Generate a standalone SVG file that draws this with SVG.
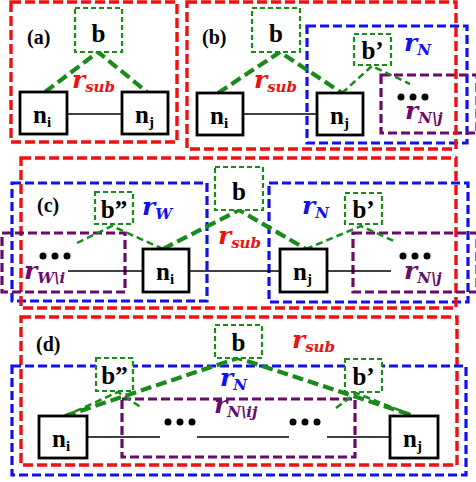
<svg xmlns="http://www.w3.org/2000/svg" width="476" height="482" viewBox="0 0 476 482">
<style>
.red{fill:none;stroke:#f01010;stroke-width:3.4;stroke-dasharray:10 4}
.blue{fill:none;stroke:#1010f0;stroke-width:3.2;stroke-dasharray:9 4}
.pur{fill:none;stroke:#6a0a6a;stroke-width:3.2;stroke-dasharray:9 4}
.gbox{fill:#fff;stroke:#1a8a1a;stroke-width:2.2;stroke-dasharray:5 3}
.nbox{fill:#fff;stroke:#000;stroke-width:2.8}
.thick{stroke:#1a8a1a;stroke-width:4.2;stroke-dasharray:11 5;fill:none}
.thin{stroke:#1a8a1a;stroke-width:2.5;stroke-dasharray:7 4;fill:none}
.edge{stroke:#000;stroke-width:1.6;fill:none}
.t{font-family:"Liberation Serif",serif;font-weight:bold;fill:#000}
.lab{font-size:20px}
.b{font-size:25px;text-anchor:middle}
.n{font-size:25px}
.sub{font-size:15px}
.r{font-family:"DejaVu Serif",serif;font-weight:bold;font-style:italic}
.rr{font-size:25px}
.rs{font-size:15px}
.cr{fill:#f01010}.cb{fill:#1010f0}.cp{fill:#6a0a6a}
</style>

<!-- regions -->
<g id="region-a-sub"><rect class="red" x="11" y="2" width="166" height="140"/></g>
<g id="region-b-N"><rect class="blue" x="307" y="26" width="160" height="117"/></g>
<g id="region-b-Nj"><rect class="pur" x="381" y="75" width="96" height="58"/></g>
<g id="region-b-sub"><rect class="red" x="187" y="2" width="269" height="147"/></g>

<g id="region-c-W"><rect class="blue" x="12" y="183" width="195" height="118"/></g>
<g id="region-c-N"><rect class="blue" x="269" y="183" width="199" height="119"/></g>
<g id="region-c-sub"><rect class="red" x="21" y="158" width="435" height="150"/></g>
<g id="region-c-Wi"><rect class="pur" x="2" y="233" width="123" height="59"/></g>
<g id="region-c-Nj"><rect class="pur" x="353" y="233" width="124" height="59"/></g>

<g id="region-d-sub"><rect class="red" x="21" y="317" width="436" height="148"/></g>
<g id="region-d-N"><rect class="blue" x="12" y="366" width="454" height="109"/></g>
<g id="region-d-Nij"><rect class="pur" x="122" y="399" width="233" height="58"/></g>

<!-- connectors -->
<g id="connectors">
  <line class="edge" x1="67" y1="114" x2="122" y2="114"/>
  <path class="thick" d="M45 92 L98 52 L147 92"/>

  <line class="edge" x1="243" y1="114" x2="317" y2="114"/>
  <path class="thick" d="M218 93 L280 52 L342 93"/>
  <path class="thin" d="M342 93 L372 66 L410 84"/>

  <line class="edge" x1="68" y1="271" x2="143" y2="271"/>
  <line class="edge" x1="189" y1="271" x2="280" y2="271"/>
  <line class="edge" x1="327" y1="271" x2="391" y2="271"/>
  <path class="thick" d="M163 249 L239 210 L306 249"/>
  <path class="thin" d="M77 243 L112 226 L163 249"/>
  <path class="thin" d="M306 249 L361 226 L396 242"/>

  <line class="edge" x1="87" y1="437" x2="160" y2="437"/>
  <line class="edge" x1="197" y1="437" x2="289" y2="437"/>
  <line class="edge" x1="327" y1="437" x2="390" y2="437"/>
  <path class="thick" d="M65 416 L238 358 L414 416"/>
  <path class="thin" d="M65 416 L118 392 L142 408"/>
  <path class="thin" d="M336 408 L356 393 L414 416"/>
</g>

<!-- panel labels -->
<g id="labels">
  <text class="t lab" x="27" y="44">(a)</text>
  <text class="t lab" x="202" y="44">(b)</text>
  <text class="t lab" x="37" y="212">(c)</text>
  <text class="t lab" x="36" y="351">(d)</text>
</g>

<!-- panel a -->
<g id="a-b"><rect class="gbox" x="75" y="8" width="47" height="44"/><text class="t b" x="98.5" y="42">b</text></g>
<g id="a-ni"><rect class="nbox" x="20" y="92" width="47" height="42"/><text class="t n" x="33" y="123">n<tspan class="sub" dy="4">i</tspan></text></g>
<g id="a-nj"><rect class="nbox" x="122" y="92" width="46" height="42"/><text class="t n" x="135" y="123">n<tspan class="sub" dy="4">j</tspan></text></g>
<g id="a-rsub"><text class="r cr" x="72" y="88"><tspan class="rr">r</tspan><tspan class="rs" dy="4">sub</tspan></text></g>

<!-- panel b -->
<g id="b-b"><rect class="gbox" x="252" y="8" width="48" height="44"/><text class="t b" x="276" y="42">b</text></g>
<g id="b-bp"><rect class="gbox" x="354" y="34" width="37" height="31"/><text class="t b" x="372.5" y="59">b’</text></g>
<g id="b-ni"><rect class="nbox" x="197" y="93" width="46" height="42"/><text class="t n" x="210" y="124">n<tspan class="sub" dy="4">i</tspan></text></g>
<g id="b-nj"><rect class="nbox" x="317" y="93" width="46" height="42"/><text class="t n" x="330" y="124">n<tspan class="sub" dy="4">j</tspan></text></g>
<g id="b-rsub"><text class="r cr" x="254" y="88"><tspan class="rr">r</tspan><tspan class="rs" dy="4">sub</tspan></text></g>
<g id="b-rN"><text class="r cb" x="404" y="51"><tspan class="rr">r</tspan><tspan class="rs" dy="4">N</tspan></text></g>
<g id="b-dots"><circle cx="401" cy="97" r="3.5"/><circle cx="413" cy="97" r="3.5"/><circle cx="425" cy="97" r="3.5"/></g>
<g id="b-rNj"><text class="r cp" x="405" y="119"><tspan class="rr">r</tspan><tspan class="rs" dy="4">N\j</tspan></text></g>

<!-- panel c -->
<g id="c-b"><rect class="gbox" x="215" y="167" width="48" height="43"/><text class="t b" x="239" y="200">b</text></g>
<g id="c-bpp"><rect class="gbox" x="95" y="192" width="38" height="32"/><text class="t b" x="114" y="218">b”</text></g>
<g id="c-bp"><rect class="gbox" x="345" y="193" width="37" height="31"/><text class="t b" x="363.5" y="218">b’</text></g>
<g id="c-ni"><rect class="nbox" x="143" y="249" width="46" height="43"/><text class="t n" x="156" y="280">n<tspan class="sub" dy="4">i</tspan></text></g>
<g id="c-nj"><rect class="nbox" x="280" y="249" width="47" height="43"/><text class="t n" x="293" y="280">n<tspan class="sub" dy="4">j</tspan></text></g>
<g id="c-rW"><text class="r cb" x="142" y="215"><tspan class="rr">r</tspan><tspan class="rs" dy="4">W</tspan></text></g>
<g id="c-rN"><text class="r cb" x="302" y="214"><tspan class="rr">r</tspan><tspan class="rs" dy="4">N</tspan></text></g>
<g id="c-rsub"><text class="r cr" x="218" y="244"><tspan class="rr">r</tspan><tspan class="rs" dy="4">sub</tspan></text></g>
<g id="c-dots-l"><circle cx="43" cy="256" r="3.5"/><circle cx="55" cy="256" r="3.5"/><circle cx="67" cy="256" r="3.5"/></g>
<g id="c-rWi"><text class="r cp" x="24" y="279"><tspan class="rr">r</tspan><tspan class="rs" dy="4">W\i</tspan></text></g>
<g id="c-dots-r"><circle cx="403" cy="256" r="3.5"/><circle cx="415" cy="256" r="3.5"/><circle cx="427" cy="256" r="3.5"/></g>
<g id="c-rNj"><text class="r cp" x="404" y="279"><tspan class="rr">r</tspan><tspan class="rs" dy="4">N\j</tspan></text></g>

<!-- panel d -->
<g id="d-b"><rect class="gbox" x="215" y="325" width="47" height="33"/><text class="t b" x="238.5" y="351">b</text></g>
<g id="d-bpp"><rect class="gbox" x="96" y="358" width="37" height="33"/><text class="t b" x="114.5" y="384">b”</text></g>
<g id="d-bp"><rect class="gbox" x="345" y="359" width="37" height="33"/><text class="t b" x="363.5" y="385">b’</text></g>
<g id="d-ni"><rect class="nbox" x="39" y="416" width="48" height="42"/><text class="t n" x="52" y="447">n<tspan class="sub" dy="4">i</tspan></text></g>
<g id="d-nj"><rect class="nbox" x="390" y="416" width="48" height="42"/><text class="t n" x="403" y="447">n<tspan class="sub" dy="4">j</tspan></text></g>
<g id="d-rsub"><text class="r cr" x="292" y="348"><tspan class="rr">r</tspan><tspan class="rs" dy="4">sub</tspan></text></g>
<g id="d-rN"><text class="r cb" x="220" y="386"><tspan class="rr">r</tspan><tspan class="rs" dy="4">N</tspan></text></g>
<g id="d-dots-l"><circle cx="168" cy="422" r="3.5"/><circle cx="180" cy="422" r="3.5"/><circle cx="192" cy="422" r="3.5"/></g>
<g id="d-rNij"><text class="r cp" x="214" y="413"><tspan class="rr">r</tspan><tspan class="rs" dy="4">N\ij</tspan></text></g>
<g id="d-dots-r"><circle cx="293" cy="422" r="3.5"/><circle cx="305" cy="422" r="3.5"/><circle cx="317" cy="422" r="3.5"/></g>
</svg>
